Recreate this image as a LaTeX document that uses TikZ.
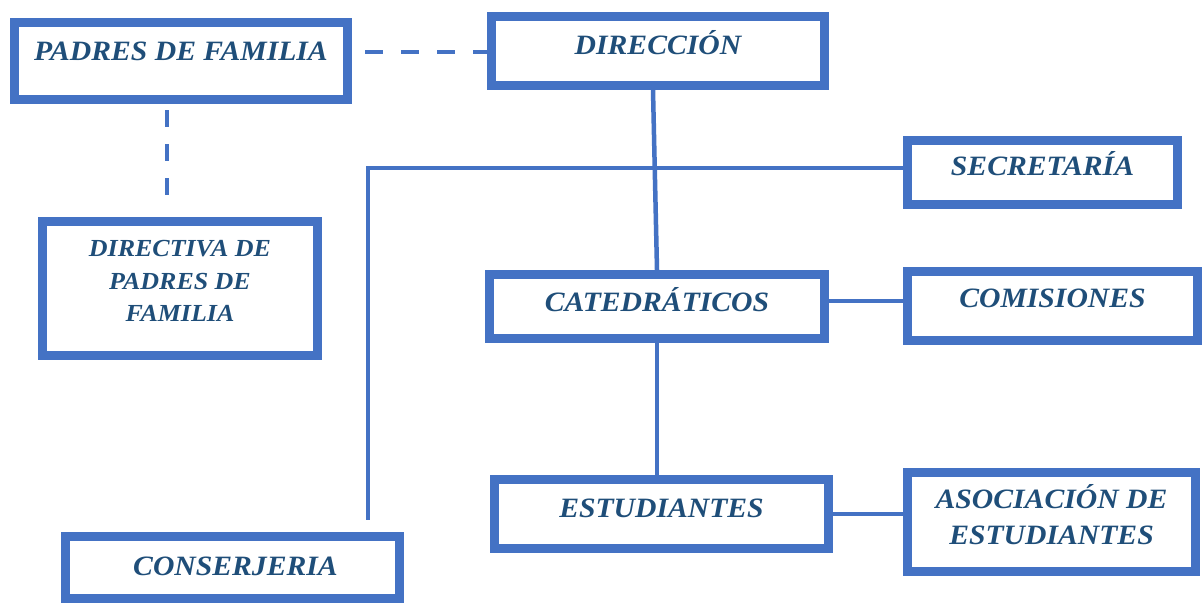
\documentclass[tikz,border=0pt]{standalone}
\usepackage{fontspec}
\setmainfont{Liberation Serif}[FakeStretch=1.06]
\usetikzlibrary{calc}
\definecolor{boxblue}{HTML}{4472C4}
\definecolor{txtblue}{HTML}{1F4E79}
\begin{document}
\begin{tikzpicture}[x=1pt,y=-1pt,
  box/.style={draw=boxblue, line width=9pt, fill=white, inner sep=0pt,
    text=txtblue, font=\fontsize{28}{35.5}\selectfont\bfseries\itshape},
  conn/.style={draw=boxblue, line width=4.5pt},
  hdash/.style={conn, dash pattern=on 18pt off 18pt},
  vdash/.style={conn, dash pattern=on 17pt off 17pt}]
\useasboundingbox[fill=white] (0,0) rectangle (1204,603);

% boxes
\node[box, minimum width=333pt, minimum height=77pt] (padres) at (181,61)
  {\raisebox{0.7pt}[0pt][0pt]{PADRES DE FAMILIA}};
\node[box, minimum width=333pt, minimum height=69pt] (direccion) at (658,51)
  {\raisebox{-3.3pt}[0pt][0pt]{DIRECCIÓN}};
\node[box, minimum width=270pt, minimum height=64pt] (secretaria) at (1042.5,172.5)
  {\raisebox{-2.8pt}[0pt][0pt]{SECRETARÍA}};
\node[box, minimum width=275pt, minimum height=134pt] (directiva) at (180,288.5)
  {\raisebox{-33pt}[0pt][0pt]{\fontsize{24.5}{32.5}\selectfont\begin{tabular}[b]{@{}c@{}}DIRECTIVA DE\\PADRES DE\\FAMILIA\end{tabular}}};
\node[box, minimum width=335pt, minimum height=64pt] (catedraticos) at (657,306.5)
  {\raisebox{-4.8pt}[0pt][0pt]{CATEDRÁTICOS}};
\node[box, minimum width=290pt, minimum height=69pt] (comisiones) at (1052.5,306)
  {\raisebox{-1.3pt}[0pt][0pt]{COMISIONES}};
\node[box, minimum width=334pt, minimum height=69pt] (estudiantes) at (661.5,514)
  {\raisebox{-3.3pt}[0pt][0pt]{ESTUDIANTES}};
\node[box, minimum width=288pt, minimum height=99pt] (asociacion) at (1051.5,522)
  {\raisebox{-22.3pt}[0pt][0pt]{\begin{tabular}[b]{@{}c@{}}ASOCIACIÓN DE\\ESTUDIANTES\end{tabular}}};
\node[box, minimum width=334pt, minimum height=62pt] (conserjeria) at (232.5,567.5)
  {\raisebox{-7.8pt}[0pt][0pt]{\hspace{6pt}CONSERJERIA}};

% free ends
\coordinate (dvend) at (167,195);
\coordinate (corner) at (368,168);
\coordinate (cjend) at (368,520);

% connectors
\draw[hdash] ($(padres.east |- direccion.west)+(13,1)$) -- ($(direccion.west)+(0,1)$);
\draw[vdash] ($(padres.south -| dvend)+(0,6)$) -- (dvend);
\draw[conn] ($(direccion.south)+(-5,0)$) -- (catedraticos.north);
\draw[conn] (secretaria.west |- corner) -- (corner) -- (cjend);
\draw[conn] ($(catedraticos.east)+(0,-5.5)$) -- ($(comisiones.west)+(0,-5)$);
\draw[conn] (catedraticos.south) -- (catedraticos.south |- estudiantes.north);
\draw[conn] (estudiantes.east) -- (estudiantes.east -| asociacion.west);
\end{tikzpicture}
\end{document}
